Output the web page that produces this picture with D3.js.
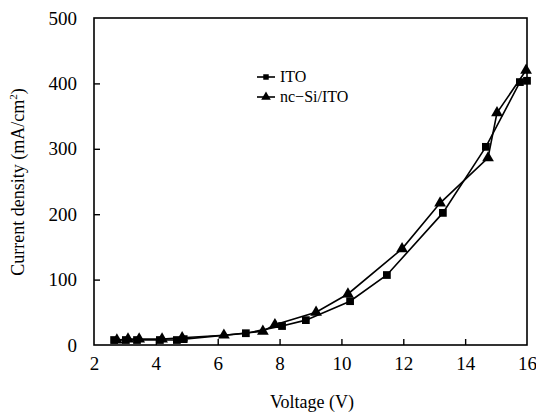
<!DOCTYPE html>
<html><head><meta charset="utf-8">
<script src="https://cdn.jsdelivr.net/npm/d3@7"></script>
<style>body{margin:0;background:#fff}svg{display:block}</style>
</head><body><svg id="c" width="536" height="414"></svg>
<script>
const xTicks = [2,4,6,8,10,12,14,16];
const yTicks = [0,100,200,300,400,500];
const itoV = [2.65,3.03,3.39,4.13,4.68,4.9,6.91,8.08,8.85,10.28,11.47,13.28,14.67,15.77,16.0];
const itoJ = [7.6,7.6,7.6,7.6,7.6,9,18,29,38,67,107,202,303,402,404];
const ncV = [2.74,3.1,3.46,4.2,4.85,6.2,7.46,7.85,9.18,10.21,11.96,13.19,14.74,15.03,15.97];
const ncJ = [7.6,9,9,9,11,15,21,31,50,78,147,217,286,355,420];
const seriesNames = ["ITO","nc\u2212Si/ITO"];

const FONT = "Liberation Serif";
const svg = d3.select("#c");
const m = {l:94, r:527, t:18, b:345};
const x = d3.scaleLinear().domain([2,16]).range([m.l,m.r]);
const y = d3.scaleLinear().domain([0,500]).range([m.b,m.t]);

svg.append("rect").attr("x",m.l).attr("y",m.t).attr("width",m.r-m.l).attr("height",m.b-m.t)
  .attr("fill","none").attr("stroke","#000").attr("stroke-width",1.6);

const xa = svg.append("g").attr("transform",`translate(0,${m.b})`)
  .call(d3.axisBottom(x).tickValues(xTicks).tickSize(-6).tickPadding(12).tickFormat(d3.format("d")));
const ya = svg.append("g").attr("transform",`translate(${m.l},0)`)
  .call(d3.axisLeft(y).tickValues(yTicks).tickSize(-6).tickPadding(17).tickFormat(d3.format("d")));
[xa,ya].forEach(a=>{a.attr("font-family",FONT).attr("font-size",19);
  a.select(".domain").remove();
  a.selectAll("line").attr("stroke","#000").attr("stroke-width",1.4);
  a.selectAll("text").attr("fill","#000").attr("font-family",FONT);});
xa.selectAll(".tick").filter(d=>d===2||d===16).select("line").remove();
ya.selectAll(".tick").filter(d=>d===0||d===500).select("line").remove();

svg.append("text").attr("x",312).attr("y",408).attr("text-anchor","middle").attr("font-family",FONT).attr("font-size",18).text("Voltage (V)");
const yt = svg.append("text").attr("transform","translate(24,182) rotate(-90)").attr("text-anchor","middle").attr("font-family",FONT).attr("font-size",18);
yt.append("tspan").text("Current density (mA/cm");
yt.append("tspan").attr("dy",-7).attr("font-size",11).text("2");
yt.append("tspan").attr("dy",7).text(")");

const line = d3.line().x(d=>x(d[0])).y(d=>y(d[1]));
const ito = itoV.map((v,i)=>[v,itoJ[i]]);
const nc = ncV.map((v,i)=>[v,ncJ[i]]);
svg.append("path").datum(ito).attr("d",line).attr("fill","none").attr("stroke","#000").attr("stroke-width",1.6);
svg.append("path").datum(nc).attr("d",line).attr("fill","none").attr("stroke","#000").attr("stroke-width",1.6);
const sq = d3.symbol().type(d3.symbolSquare).size(60);
const tri = d3.symbol().type(d3.symbolTriangle).size(60);
svg.selectAll(".sq").data(ito).join("path").attr("d",sq).attr("transform",d=>`translate(${x(d[0])},${y(d[1])})`);
svg.selectAll(".tr").data(nc).join("path").attr("d",tri).attr("transform",d=>`translate(${x(d[0])},${y(d[1])})`);

const lg = [{n:seriesNames[0],s:d3.symbol().type(d3.symbolSquare).size(30),yy:77},
            {n:seriesNames[1],s:d3.symbol().type(d3.symbolTriangle).size(40),yy:97}];
lg.forEach(g=>{
  svg.append("line").attr("x1",257).attr("x2",275).attr("y1",g.yy).attr("y2",g.yy).attr("stroke","#000").attr("stroke-width",1.6);
  svg.append("path").attr("d",g.s()).attr("transform",`translate(266,${g.yy})`);
  svg.append("text").attr("x",280).attr("y",g.yy+5).attr("font-family",FONT).attr("font-size",16).text(g.n);
});
</script></body></html>
